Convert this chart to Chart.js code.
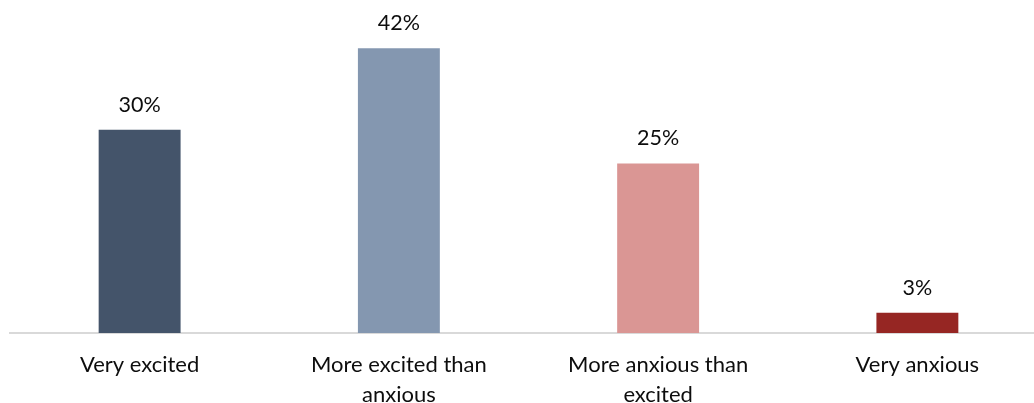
<!DOCTYPE html>
<html>
<head>
<meta charset="utf-8">
<script src="https://cdn.jsdelivr.net/npm/chart.js@4/dist/chart.umd.min.js"></script>
<style>
  html, body { margin: 0; padding: 0; background: #fff; overflow: hidden; }
  #wrap { position: relative; width: 1047px; height: 403px; }
</style>
</head>
<body>
<div id="wrap"><canvas id="c"></canvas></div>
<script>
const categories = [
  "Very excited",
  ["More excited than", "anxious"],
  ["More anxious than", "excited"],
  "Very anxious"
];
const values = [30, 42, 25, 3];
const barColors = ["#44546A", "#8497B0", "#DA9694", "#962623"];
const yMax = 45;

const FONT = "Lato, 'Open Sans', sans-serif";

const valueLabels = {
  id: "valueLabels",
  afterDatasetsDraw(chart) {
    const ctx = chart.ctx;
    const meta = chart.getDatasetMeta(0);
    ctx.save();
    ctx.font = "21.5px " + FONT;
    ctx.fillStyle = "#0d0d0d";
    ctx.textAlign = "center";
    ctx.textBaseline = "middle";
    meta.data.forEach((bar, i) => {
      ctx.fillText(values[i] + "%", bar.x, bar.y - 25);
    });
    ctx.restore();
  }
};

new Chart(document.getElementById("c"), {
  type: "bar",
  data: {
    labels: categories,
    datasets: [{
      data: values,
      backgroundColor: barColors,
      borderWidth: 0,
      barPercentage: 1,
      categoryPercentage: 0.316
    }]
  },
  options: {
    responsive: true,
    maintainAspectRatio: false,
    animation: false,
    layout: { padding: { left: 10, right: 0, top: 28, bottom: 0 } },
    plugins: { legend: { display: false }, tooltip: { enabled: false } },
    scales: {
      x: {
        grid: { display: false, drawTicks: false },
        border: { display: true, color: "#D9D9D9", width: 2 },
        ticks: {
          color: "#0d0d0d",
          padding: 17,
          maxRotation: 0,
          autoSkip: false,
          font: { family: FONT, size: 22, lineHeight: 1.36 }
        },
        afterFit(axis) { axis.height = 70; }
      },
      y: {
        display: false,
        min: 0,
        max: yMax
      }
    }
  },
  plugins: [valueLabels]
});
</script>
</body>
</html>
